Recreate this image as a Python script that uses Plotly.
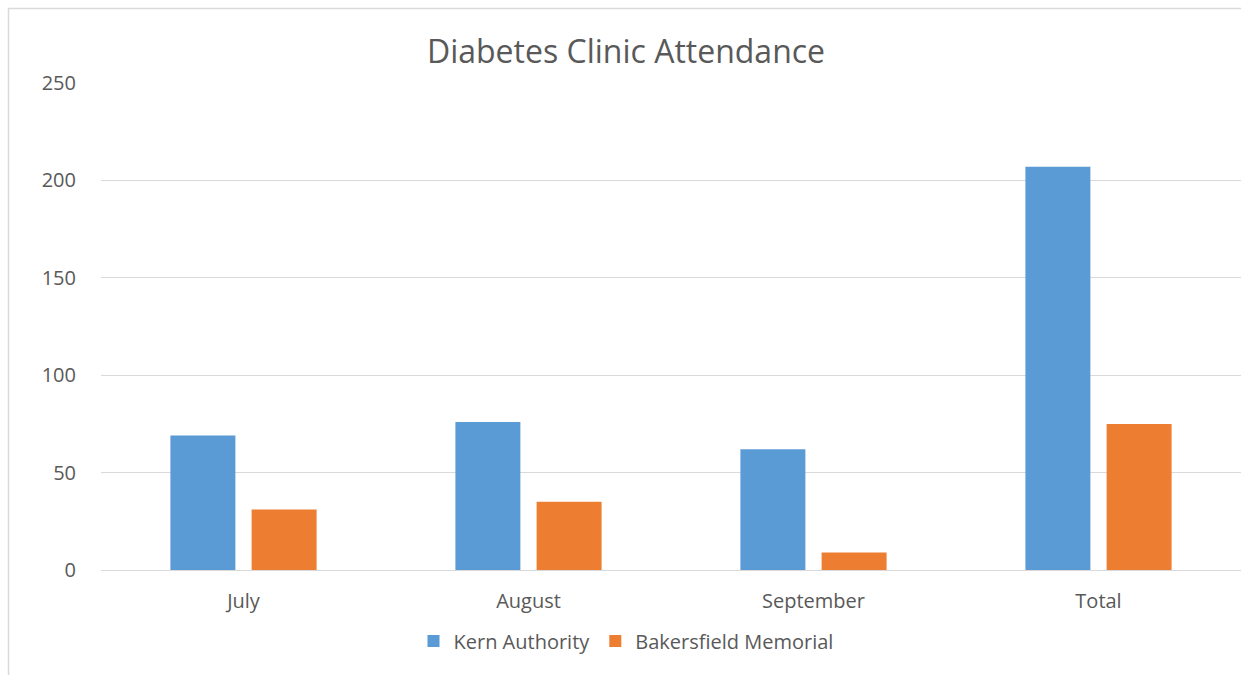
import plotly.graph_objects as go

categories = ["July", "August", "September", "Total"]
kern_authority = [69, 76, 62, 207]
bakersfield_memorial = [31, 35, 9, 75]
y_ticks = [0, 50, 100, 150, 200, 250]

W, H = 1241, 675
L, R, T, B = 101, 0, 83, 105
pw = W - L - R
ph = H - T - B

def px_x(p):
    return (p - L) / pw

def px_y(p):
    return (H - B - p) / ph

font_family = "'Open Sans', Lato, sans-serif"
grey = "#595959"

fig = go.Figure()
fig.add_trace(go.Bar(x=categories, y=kern_authority, name="Kern Authority",
                     marker=dict(color="#5B9BD5", line=dict(width=0))))
fig.add_trace(go.Bar(x=categories, y=bakersfield_memorial, name="Bakersfield Memorial",
                     marker=dict(color="#ED7D31", line=dict(width=0))))

shapes = [
    dict(type="line", xref="paper", yref="paper", x0=px_x(8), x1=px_x(W + 5),
         y0=px_y(8.5), y1=px_y(8.5), line=dict(color="#d9d9d9", width=1.5), layer="below"),
    dict(type="line", xref="paper", yref="paper", x0=px_x(8.5), x1=px_x(8.5),
         y0=px_y(8), y1=px_y(H + 5), line=dict(color="#d9d9d9", width=1.5), layer="below"),
]

fig.update_layout(
    width=W, height=H,
    margin=dict(l=L, r=R, t=T, b=B, pad=0),
    paper_bgcolor="white", plot_bgcolor="white",
    barmode="group", bargap=0.43, bargroupgap=0.2,
    font=dict(family=font_family, color=grey, size=20),
    title=dict(text="Diabetes Clinic Attendance", x=626 / W, xanchor="center",
               y=1 - 52 / H, yanchor="middle", yref="container",
               font=dict(size=32, color=grey, family=font_family)),
    xaxis=dict(showgrid=False, showline=True, linecolor="#d9d9d9", linewidth=1,
               ticks="", tickfont=dict(size=20, color=grey), ticklabelstandoff=13),
    yaxis=dict(range=[0, 250], tickvals=y_ticks, showgrid=True, gridcolor="#d9d9d9",
               gridwidth=1, zeroline=False, showline=False, ticks="",
               tickfont=dict(size=20, color=grey), ticklabelstandoff=24),
    legend=dict(orientation="h", x=px_x(626), xanchor="center", y=px_y(641),
                yanchor="middle", font=dict(size=20, color=grey), bgcolor="rgba(0,0,0,0)"),
    shapes=shapes,
    showlegend=True,
)

fig.write_html("out.html")
